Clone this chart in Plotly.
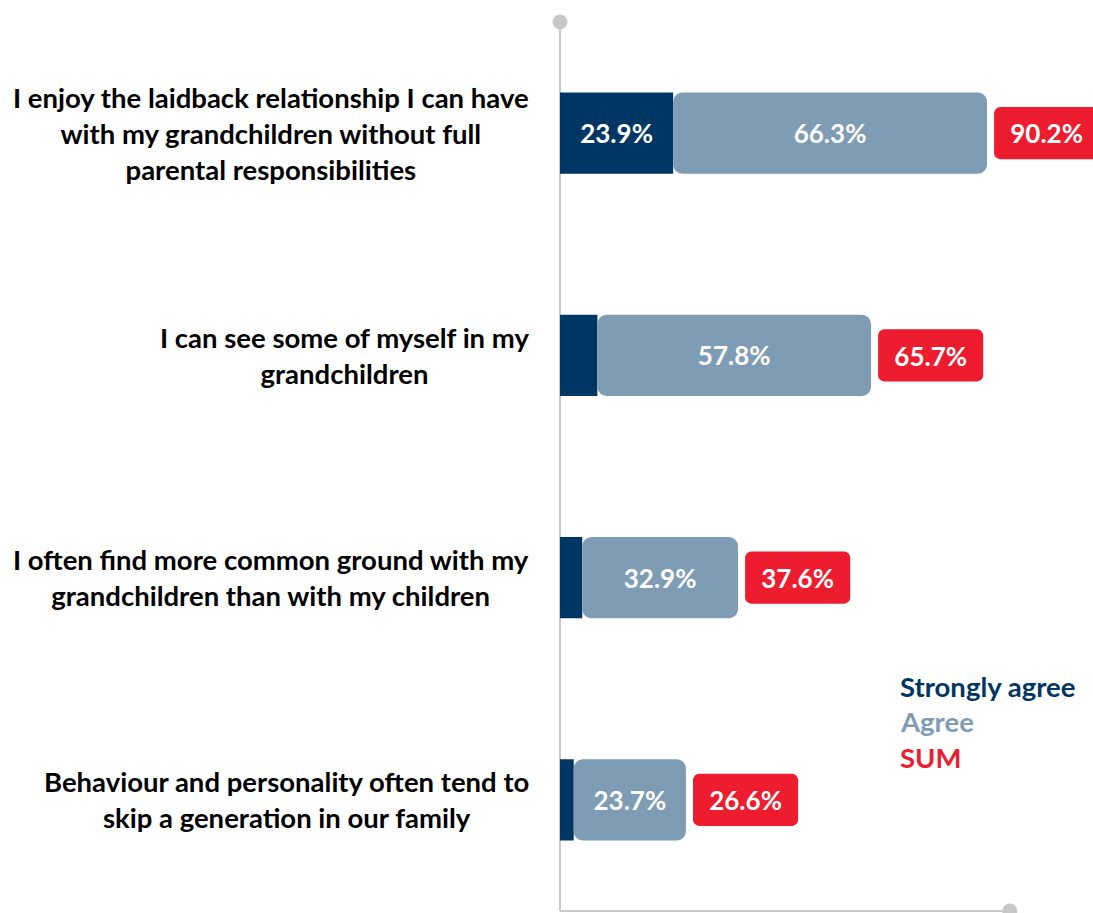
import plotly.graph_objects as go

categories = [
    "I enjoy the laidback relationship I can have<br>with my grandchildren without full<br>parental responsibilities",
    "I can see some of myself in my<br>grandchildren",
    "I often find more common ground with my<br>grandchildren than with my children",
    "Behaviour and personality often tend to<br>skip a generation in our family",
]
strongly_agree = [23.9, 7.9, 4.7, 2.9]
agree = [66.3, 57.8, 32.9, 23.7]
sum_vals = [90.2, 65.7, 37.6, 26.6]

NAVY = "#003663"
GREY = "#7f9cb5"
RED = "#ed1c2e"
AXIS = "#c8c8c8"
FONT = "Lato"

W, H = 1093, 913
ML, MT, MB = 560, 22, 2
PX_PER_UNIT = 427 / 90.2
xmax = (W - ML) / PX_PER_UNIT
GAP = 1.5
BOX_W = 22.2
AXIS_END = 95

fig = go.Figure()

fig.add_trace(go.Bar(
    y=categories, x=strongly_agree, base=[0] * 4, orientation="h",
    marker=dict(color=NAVY, line=dict(width=0)), width=0.365,
    text=[f"{v}%" if v >= 10 else "" for v in strongly_agree],
    textposition="inside", insidetextanchor="middle",
    textfont=dict(family=FONT, size=26, color="white", weight="bold"),
    name="Strongly agree", showlegend=False,
))
fig.add_trace(go.Bar(
    y=categories, x=agree, base=strongly_agree, orientation="h",
    marker=dict(color=GREY, line=dict(width=0), cornerradius=9), width=0.365,
    text=[f"{v}%" for v in agree],
    textposition="inside", insidetextanchor="middle",
    textfont=dict(family=FONT, size=26, color="white", weight="bold"),
    name="Agree", showlegend=False,
))
fig.add_trace(go.Bar(
    y=categories, x=[BOX_W] * 4, base=[s + GAP for s in sum_vals], orientation="h",
    marker=dict(color=RED, line=dict(width=0), cornerradius=6), width=0.234,
    text=[f"{v}%" for v in sum_vals],
    textposition="inside", insidetextanchor="middle",
    textfont=dict(family=FONT, size=28, color="white", weight="bold"),
    name="SUM", showlegend=False,
))

# category labels
for c in categories:
    fig.add_annotation(
        x=0, xref="paper", y=c, yref="y", xanchor="right", xshift=-29,
        text=c, showarrow=False, align="center",
        font=dict(family=FONT, size=27.5, color="black", weight="bold"),
    )

# legend texts
for txt, col, yp in [("Strongly agree", NAVY, 0.253), ("Agree", GREY, 0.2137), ("SUM", RED, 0.1732)]:
    fig.add_annotation(
        x=0.634, xref="paper", y=yp, yref="paper", xanchor="left", yanchor="middle",
        text=txt, showarrow=False, align="left",
        font=dict(family=FONT, size=27.5, color=col, weight="bold"),
    )

# axis lines (paper coords so end markers are not clipped)
end_p = AXIS_END / xmax
fig.add_shape(type="line", xref="paper", yref="paper", x0=0, x1=0, y0=0, y1=1,
              line=dict(color=AXIS, width=2), layer="below")
fig.add_shape(type="line", xref="paper", yref="paper", x0=0, x1=end_p, y0=0, y1=0,
              line=dict(color=AXIS, width=2), layer="below")
for xa, ya in [(0, 1), (end_p, 0)]:
    fig.add_shape(type="circle", xref="paper", yref="paper", xsizemode="pixel", ysizemode="pixel",
                  xanchor=xa, yanchor=ya, x0=-7.5, x1=7.5, y0=-7.5, y1=7.5,
                  fillcolor=AXIS, line=dict(width=0), layer="below")

fig.update_layout(
    width=W, height=H,
    margin=dict(l=ML, r=0, t=MT, b=MB),
    barmode="overlay",
    plot_bgcolor="white", paper_bgcolor="white",
    xaxis=dict(range=[0, xmax], showgrid=False, zeroline=False, showline=False,
               showticklabels=False, ticks=""),
    yaxis=dict(range=[3.5, -0.5], showgrid=False, zeroline=False, showline=False,
               showticklabels=False, ticks=""),
    uniformtext=dict(mode="show", minsize=10),
)

fig.write_html(
    "out.html",
    config={"displayModeBar": False},
    post_script="document.body.style.margin='0';document.body.style.overflow='hidden';",
)
